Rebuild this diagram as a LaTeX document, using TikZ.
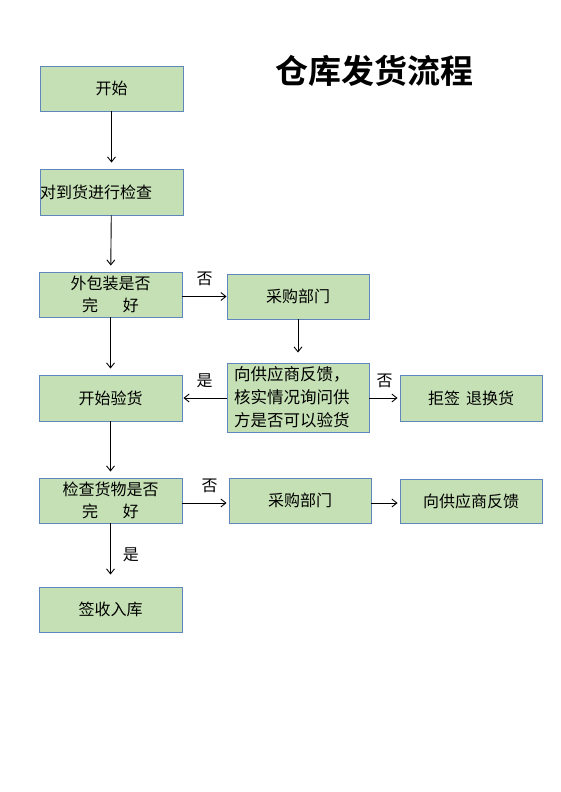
\documentclass[tikz,border=0pt]{standalone}
\usepackage{fontspec}
\setmainfont{Noto Sans CJK SC}[BoldFont={* Bold}]
\usetikzlibrary{arrows.meta}
\definecolor{boxfill}{RGB}{197,224,180}
\definecolor{boxline}{RGB}{95,135,190}
\tikzset{
  flowbox/.style={draw=boxline, fill=boxfill, line width=0.9pt, minimum width=143pt,
    minimum height=45pt, inner sep=0pt, align=center, font=\fontsize{16}{22}\selectfont},
  flowarrow/.style={-{Straight Barb[length=5pt,width=8pt]}, line width=0.9pt, shorten >=6pt},
  yesno/.style={font=\fontsize{16}{20}\selectfont, inner sep=0pt}
}
\begin{document}
\begin{tikzpicture}[x=1pt, y=-1pt]
\useasboundingbox (0,0) rectangle (560,792);
\node[font=\fontsize{33}{36}\selectfont\bfseries] (title) at (374,71) {仓库发货流程};

\node[flowbox] (start) at (111.5,88.5) {开始};
\node[flowbox, minimum height=46pt, text width=143pt, align=left] (check) at (111.5,192) {对到货进行检查};
\node[flowbox] (pack) at (110.5,294.5) {外包装是否\\完\hspace{25pt}好};
\node[flowbox, minimum width=142pt] (buya) at (298,296.5) {采购部门};
\node[flowbox, minimum width=142pt, minimum height=69pt, text width=128pt, align=left,
  font=\fontsize{16.5}{23}\selectfont] (ask) at (298,397.5) {向供应商反馈，\\核实情况询问供\\方是否可以验货};
\node[flowbox, minimum height=46pt] (inspect) at (110.5,398) {开始验货};
\node[flowbox, minimum width=142pt, minimum height=46pt] (refuse) at (471,398) {拒签\hspace{6pt}退换货};
\node[flowbox] (goods) at (110.5,500.5) {检查货物是否\\完\hspace{25pt}好};
\node[flowbox, minimum width=142pt] (buyb) at (300,500.5) {采购部门};
\node[flowbox, minimum width=142pt, minimum height=44pt] (feedback) at (471,501) {向供应商反馈};
\node[flowbox] (sign) at (110.5,609.5) {签收入库};

\draw[flowarrow] (start) -- (check);
\draw[flowarrow] (check) -- (pack);
\draw[flowarrow, shorten >=0pt] (pack.east |- 0,296.5) -- node[yesno, above=10pt]{否} (buya.west);
\draw[flowarrow, shorten >=10pt] (buya) -- (ask);
\draw[flowarrow] (pack) -- (inspect);
\draw[flowarrow, shorten >=1pt] (ask.west |- inspect) -- node[yesno, above=10pt]{是} (inspect.east);
\draw[flowarrow, shorten >=2pt] (ask.east |- refuse) -- node[yesno, above=10pt]{否} (refuse.west);
\draw[flowarrow] (inspect) -- (goods);
\draw[flowarrow, shorten >=2pt] (goods.east |- 0,503) -- node[yesno, above=10pt, xshift=4pt]{否} (buyb.west |- 0,503);
\draw[flowarrow, shorten >=2pt] (buyb.east |- 0,503) -- (feedback.west |- 0,503);
\draw[flowarrow, shorten >=12pt] (goods) -- node[yesno, right=12pt]{是} (sign);
\end{tikzpicture}
\end{document}
